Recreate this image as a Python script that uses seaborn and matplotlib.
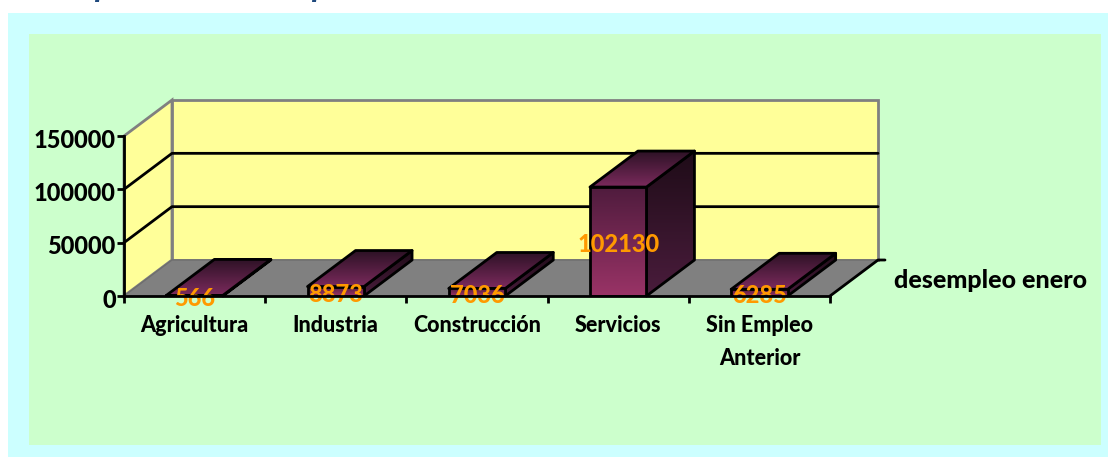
import matplotlib
matplotlib.use('Agg')
import matplotlib.pyplot as plt
import numpy as np
import pandas as pd
import seaborn as sns
from matplotlib.colors import LinearSegmentedColormap
from matplotlib.patches import Polygon, Rectangle
from matplotlib.transforms import ScaledTranslation

categories = ['Agricultura', 'Industria', 'Construcción', 'Servicios', 'Sin Empleo\nAnterior']
values = [566, 8873, 7036, 102130, 6285]
y_ticks = [0, 50000, 100000, 150000]
series_name = 'desempleo enero'

DEPTH_DX = 48
DEPTH_DY = -36
LW = 2.0

sns.set_theme(style='white')
plt.rcParams['font.family'] = ['Lato', 'DejaVu Sans']

fig = plt.figure(figsize=(11.08, 4.57), dpi=100, facecolor='white')

# pixel space axes for the panels and the fake 3d parts
bg = fig.add_axes([0, 0, 1, 1], zorder=0)
bg.set_xlim(0, 1108)
bg.set_ylim(457, 0)
bg.set_autoscale_on(False)
bg.axis('off')
bg.add_patch(Rectangle((8, 13), 1100, 444, fc='#CCFFFF', ec='none'))
bg.add_patch(Rectangle((29, 34), 1072, 411, fc='#CCFFCC', ec='none'))

# front plane of the chart
ax = fig.add_axes([124 / 1108, (457 - 296) / 457, 706 / 1108, 160 / 457], zorder=1)
ax.patch.set_alpha(0)

df = pd.DataFrame({'Sector': categories, 'Desempleo': values})
sns.barplot(data=df, x='Sector', y='Desempleo', width=0.4, color='#993366',
            edgecolor='black', linewidth=LW, saturation=1, ax=ax)
ax.set_xlim(-0.5, len(categories) - 0.5)
ax.set_ylim(0, 150000)
ax.set_xlabel('')
ax.set_ylabel('')


def to_px(x, y):
    return bg.transData.inverted().transform(ax.transData.transform((x, y)))


def back(pt):
    return (pt[0] + DEPTH_DX, pt[1] + DEPTH_DY)


def gradient_poly(axes, pts, c_top, c_bottom, z):
    cmap = LinearSegmentedColormap.from_list('g', [c_top, c_bottom])
    poly = Polygon(pts, closed=True, fc='none', ec='black', lw=LW, zorder=z + 0.1, joinstyle='round')
    axes.add_patch(poly)
    xs = [p[0] for p in pts]
    ys = [p[1] for p in pts]
    im = axes.imshow(np.linspace(0, 1, 64)[:, None], cmap=cmap, aspect='auto', zorder=z,
                     extent=[min(xs), max(xs), max(ys), min(ys)])
    im.set_clip_path(poly)


# walls and floor
x0, x1 = -0.5, len(categories) - 0.5
f0 = to_px(x0, 0)
f1 = to_px(x1, 0)
t0 = to_px(x0, y_ticks[-1])
t1 = to_px(x1, y_ticks[-1])
bg.add_patch(Polygon([f0, t0, back(t0), back(f0)], fc='#FFFF99', ec='#808080', lw=LW, zorder=2))
bg.add_patch(Polygon([back(f0), back(t0), back(t1), back(f1)], fc='#FFFF99', ec='#808080', lw=LW, zorder=2))
bg.add_patch(Polygon([f0, back(f0), back(f1), f1], fc='#808080', ec='#6e6e6e', lw=1, zorder=2))

for v in y_ticks[1:-1]:
    a = to_px(x0, v)
    b = to_px(x1, v)
    bg.plot([a[0], back(a)[0], back(b)[0]], [a[1], back(a)[1], back(b)[1]], color='black', lw=LW, zorder=3)

# depth axis on the right
end = back(f1)
bg.plot([f1[0], end[0], end[0] + 7], [f1[1], end[1], end[1]], color='black', lw=LW, zorder=3)

# sides and tops of the bars
for p in ax.patches[:len(values)]:
    left, w, h = p.get_x(), p.get_width(), p.get_height()
    fl = to_px(left, h)
    fr = to_px(left + w, h)
    br = to_px(left + w, 0)
    gradient_poly(bg, [fr, back(fr), back(br), br], '#1f0c18', '#4a1c3c', 4)
    gradient_poly(bg, [fl, back(fl), back(fr), fr], '#2e1226', '#7a2a5c', 5)

# front faces get their gradient from the bar patch
front_cmap = LinearSegmentedColormap.from_list('front', ['#501c3e', '#993366'])
for p in ax.patches[:len(values)]:
    left, w, h = p.get_x(), p.get_width(), p.get_height()
    im = ax.imshow(np.linspace(0, 1, 64)[:, None], cmap=front_cmap, aspect='auto', zorder=p.get_zorder() + 0.1,
                   extent=[left, left + w, 0, h])
    im.set_clip_path(p)
    p.set_facecolor('none')
    p.set_zorder(p.get_zorder() + 0.2)
ax.set_xlim(x0, x1)
ax.set_ylim(0, y_ticks[-1])

for i, v in enumerate(values):
    ax.annotate(str(v), (i, v / 2), xytext=(0, -2), textcoords='offset points', color='#FF9900',
                fontsize=17, fontweight=900, ha='center', va='center', zorder=6)

sns.despine(ax=ax, top=True, right=True)
for side in ['left', 'bottom']:
    ax.spines[side].set_color('black')
    ax.spines[side].set_linewidth(LW)
    ax.spines[side].set_zorder(7)

ax.set_yticks(y_ticks)
ax.set_yticklabels([str(v) for v in y_ticks], fontsize=17, fontweight=900, color='black')
ax.set_xticks(np.arange(x0, x1 + 1))
ax.set_xticklabels([])
ax.set_xticks(range(len(categories)), labels=categories, minor=True)
ax.tick_params(axis='x', which='major', length=5, width=LW, color='black', bottom=True)
ax.tick_params(axis='x', which='minor', length=0, pad=14, labelsize=15.5, labelcolor='black')
for label in ax.get_xticklabels(minor=True):
    label.set_fontweight(900)
    label.set_linespacing(1.7)
ax.tick_params(axis='y', length=5, width=LW, color='black', left=True, pad=1)
shift = ScaledTranslation(0, -2 / 100, fig.dpi_scale_trans)
for label in ax.get_yticklabels():
    label.set_transform(label.get_transform() + shift)

bg.text(991, 280, series_name, fontsize=18, fontweight=900, color='black', ha='center', va='center')

# the slide title is cut off by the crop, only the descenders show
for x in [103, 320]:
    bg.text(x, -3, 'p', fontsize=24, fontweight='bold', style='italic', color='#1F497D', ha='center', va='baseline',
            clip_on=True)

fig.savefig('out.png', dpi=100)
